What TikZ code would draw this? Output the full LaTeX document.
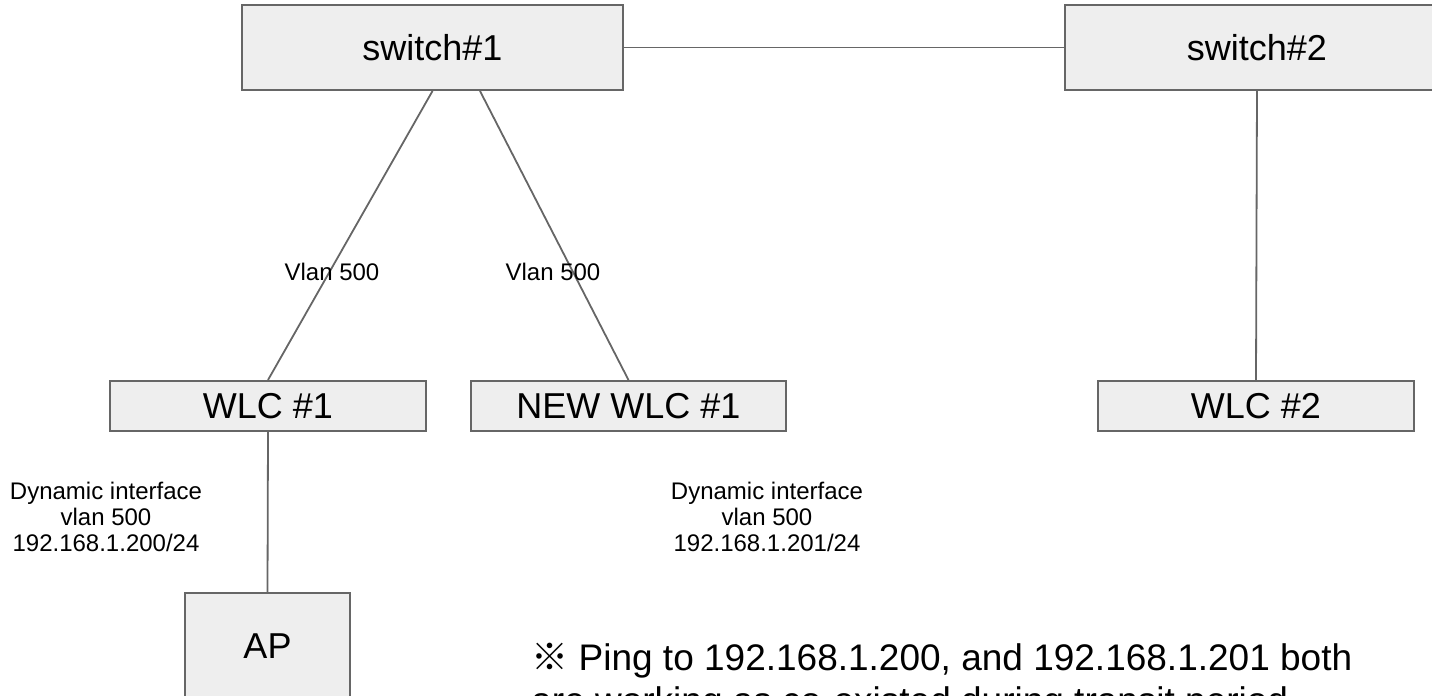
\documentclass[tikz,border=0pt]{standalone}
\usepackage{fontspec}
\setmainfont{Liberation Sans}
\newfontfamily\cjk{Noto Sans CJK JP}
\definecolor{boxfill}{HTML}{EEEEEE}
\definecolor{edgegray}{HTML}{666666}
\begin{document}
\begin{tikzpicture}[x=0.5pt,y=-0.5pt,
  dev/.style={draw=edgegray, fill=boxfill, line width=1pt, inner sep=0pt,
    font=\fontsize{18}{21}\selectfont},
  link/.style={draw=edgegray, line width=0.9pt},
  lbl/.style={font=\fontsize{12}{13}\selectfont, inner sep=0pt, align=center},
  note/.style={font=\fontsize{18.5}{21.5}\selectfont, inner sep=0pt, align=left}]
\useasboundingbox (0,0) rectangle (1432,696);
\clip (0,0) rectangle (1432,696);
% devices
\node[dev, minimum width=190.5pt, minimum height=42.5pt] (sw1) at (432.5,47.5) {switch\#1};
\node[dev, minimum width=192pt, minimum height=42.5pt] (sw2) at (1257,47.5) {switch\#2};
\node[dev, minimum width=158pt, minimum height=25pt] (wlc1) at (268,406) {WLC \#1};
\node[dev, minimum width=157.5pt, minimum height=25pt] (nwlc) at (628.5,406) {NEW WLC \#1};
\node[dev, minimum width=158pt, minimum height=25pt] (wlc2) at (1256,406) {WLC \#2};
\node[dev, minimum width=82.5pt, minimum height=53pt] (ap) at (267.5,646) {AP};
\coordinate (sw1r) at ([xshift=23.75pt]sw1.south);
% links
\draw[link] (sw1.east) -- (sw2.west);
\draw[link] (sw1.south) -- (wlc1.north);
\draw[link] (sw1r) -- (nwlc.north);
\draw[link] (sw2.south) -- (wlc2.north);
\draw[link] (wlc1.south) -- (ap.north);
% labels
\node[lbl] (v1) at (332,272) {Vlan 500};
\node[lbl] (v2) at (553,272) {Vlan 500};
\node[lbl] (d1) at (106,517) {Dynamic interface\\vlan 500\\192.168.1.200/24};
\node[lbl] (d2) at (767,517) {Dynamic interface\\vlan 500\\192.168.1.201/24};
\node[note, anchor=base west] (n) at (531,713) {{\cjk ※} Ping to 192.168.1.200, and 192.168.1.201 both\\are working as co-existed during transit period};
\end{tikzpicture}
\end{document}
